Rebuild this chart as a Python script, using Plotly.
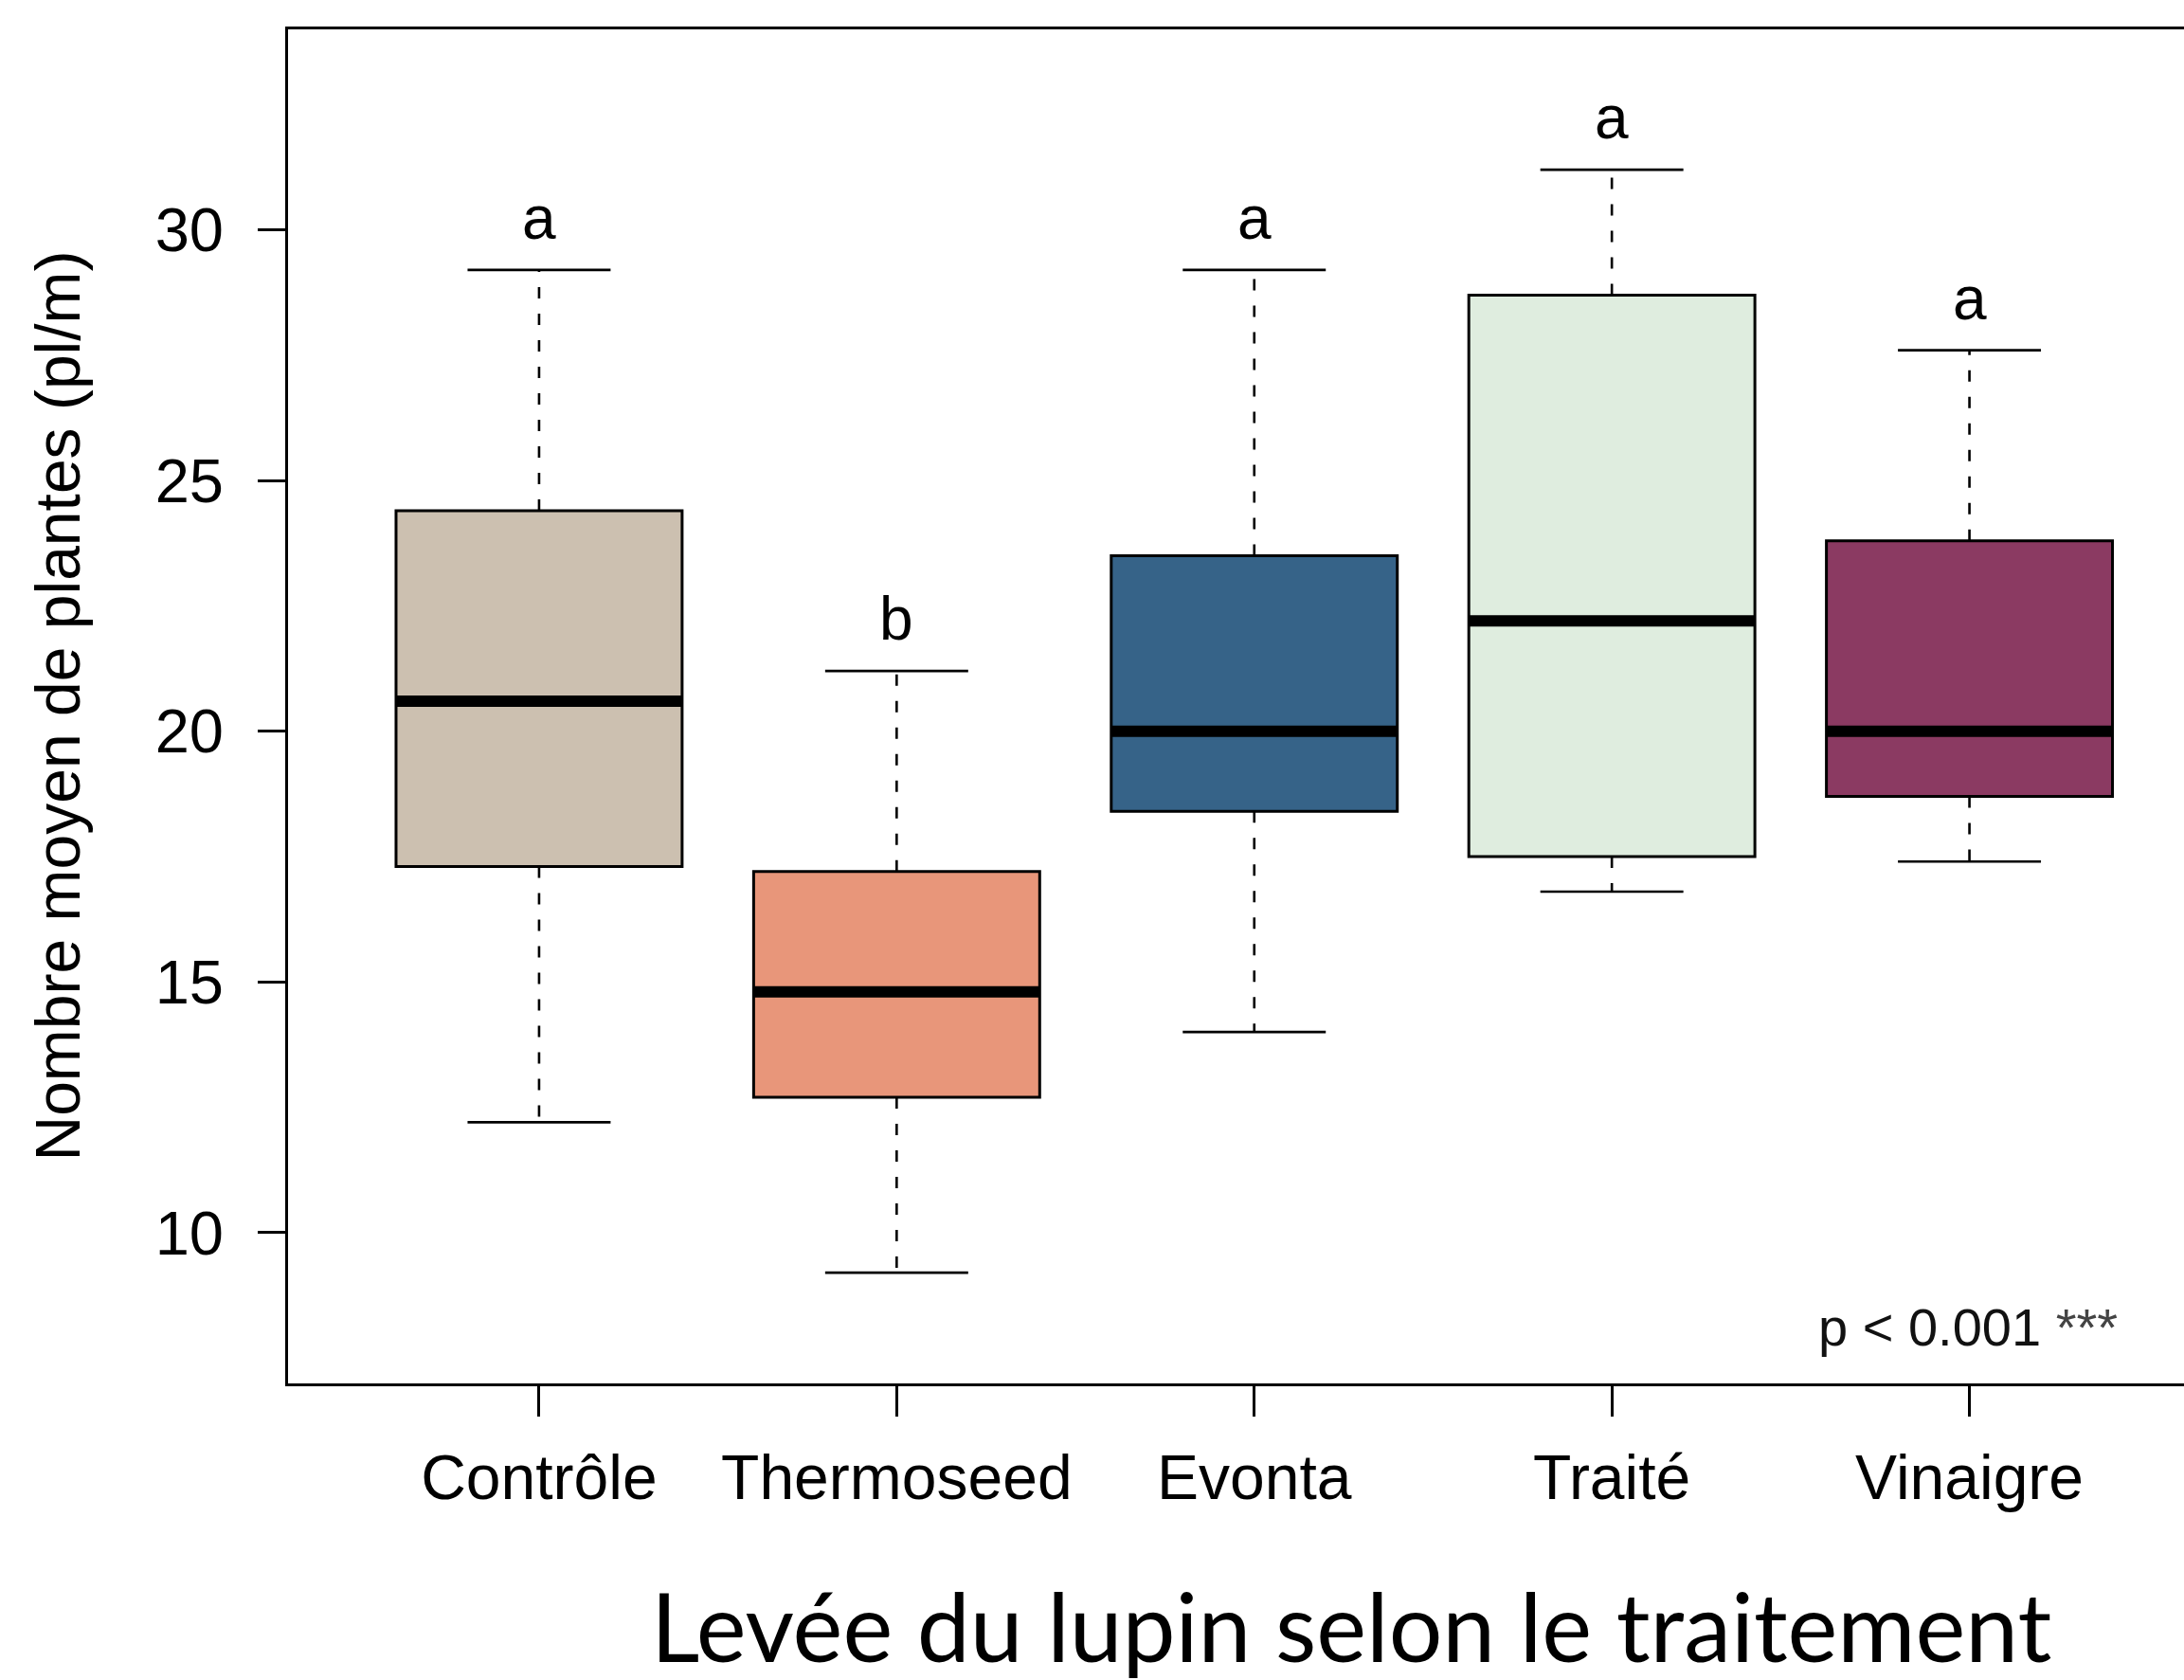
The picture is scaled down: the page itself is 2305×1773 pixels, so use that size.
import plotly.graph_objects as go

# ---- data ----
categories = ["Contrôle", "Thermoseed", "Evonta", "Traité", "Vinaigre"]
lower_whisker = [12.2, 9.2, 14.0, 16.8, 17.4]
q1 = [17.3, 12.7, 18.4, 17.5, 18.7]
median = [20.6, 14.8, 20.0, 22.2, 20.0]
q3 = [24.4, 17.2, 23.5, 28.7, 23.8]
upper_whisker = [29.2, 21.2, 29.2, 31.2, 27.6]
letters = ["a", "b", "a", "a", "a"]
fill_colors = ["#CCC0B0", "#E8967A", "#366388", "#DFEDDF", "#8B3A62"]
y_ticks = [10, 15, 20, 25, 30]
p_label = "p < 0.001 <span style='color:#444444'>***</span>"
y_title = "Nombre moyen de plantes (pl/m)"
x_title = "Levée du lupin selon le traitement"

positions = list(range(1, len(categories) + 1))
box_width = 0.8
cap_half = 0.2

W, H = 2305, 1773
ML, MR, MT = 304, 0, 31
MB = H - 1460
plot_w = W - ML - MR
plot_h = H - MT - MB
x_min, x_max = 0.298, 5.6

fig = go.Figure()

# whiskers (dashed) and caps
for i, x in enumerate(positions):
    fig.add_trace(go.Scatter(
        x=[x, x, None, x, x],
        y=[q3[i], upper_whisker[i], None, q1[i], lower_whisker[i]],
        mode="lines", line=dict(color="black", width=2.6, dash="12px,16px"),
        showlegend=False, hoverinfo="skip"))
    fig.add_trace(go.Scatter(
        x=[x - cap_half, x + cap_half, None, x - cap_half, x + cap_half],
        y=[upper_whisker[i], upper_whisker[i], None, lower_whisker[i], lower_whisker[i]],
        mode="lines", line=dict(color="black", width=2.7),
        showlegend=False, hoverinfo="skip"))

# boxes
for i, x in enumerate(positions):
    fig.add_trace(go.Box(
        x=[x], q1=[q1[i]], median=[median[i]], q3=[q3[i]],
        lowerfence=[q1[i]], upperfence=[q3[i]],
        width=box_width, whiskerwidth=0,
        fillcolor=fill_colors[i], line=dict(color="black", width=3),
        boxpoints=False, showlegend=False, hoverinfo="skip"))

# thick medians
for i, x in enumerate(positions):
    fig.add_trace(go.Scatter(
        x=[x - box_width / 2, x + box_width / 2], y=[median[i], median[i]],
        mode="lines", line=dict(color="black", width=12),
        showlegend=False, hoverinfo="skip"))

annotations = []
for i, x in enumerate(positions):
    annotations.append(dict(
        x=x, y=upper_whisker[i] + 1.0, xref="x", yref="y", text=letters[i],
        showarrow=False, xanchor="center", yanchor="middle", yshift=2,
        font=dict(family="Liberation Sans", size=64, color="black")))

annotations.append(dict(
    x=5.42, y=8.12, xref="x", yref="y", text=p_label, showarrow=False,
    xanchor="right", yanchor="middle",
    font=dict(family="Liberation Sans", size=56, color="#111111")))

annotations.append(dict(
    x=(60 - ML) / plot_w, y=0.5, xref="paper", yref="paper", text=y_title,
    textangle=-90, showarrow=False, xanchor="center", yanchor="middle",
    font=dict(family="Liberation Sans", size=66, color="black")))
annotations.append(dict(
    x=(1426 - ML) / plot_w, y=(1460 - 1715) / plot_h, xref="paper", yref="paper",
    text=x_title, showarrow=False, xanchor="center", yanchor="middle",
    font=dict(family="Lato", size=100, color="black")))

fig.update_layout(
    width=W, height=H,
    margin=dict(l=ML, r=MR, t=MT, b=MB, pad=0),
    paper_bgcolor="white", plot_bgcolor="white",
    showlegend=False,
    annotations=annotations,
    xaxis=dict(
        range=[x_min, x_max], tickvals=positions, ticktext=categories,
        showgrid=False, zeroline=False,
        showline=True, mirror=True, linecolor="black", linewidth=3,
        ticks="outside", ticklen=32, tickwidth=2.7, tickcolor="black",
        tickfont=dict(family="Liberation Sans", size=66, color="black"),
        ticklabelstandoff=8),
    yaxis=dict(
        range=[6.99, 34.0], tickvals=y_ticks,
        showgrid=False, zeroline=False,
        showline=True, mirror=False, linecolor="black", linewidth=3,
        ticks="outside", ticklen=29, tickwidth=2.7, tickcolor="black",
        tickfont=dict(family="Liberation Sans", size=65, color="black"),
        ticklabelstandoff=23),
)

fig.write_html("out.html", config={"displayModeBar": False},
               post_script="document.body.style.margin='0';")
